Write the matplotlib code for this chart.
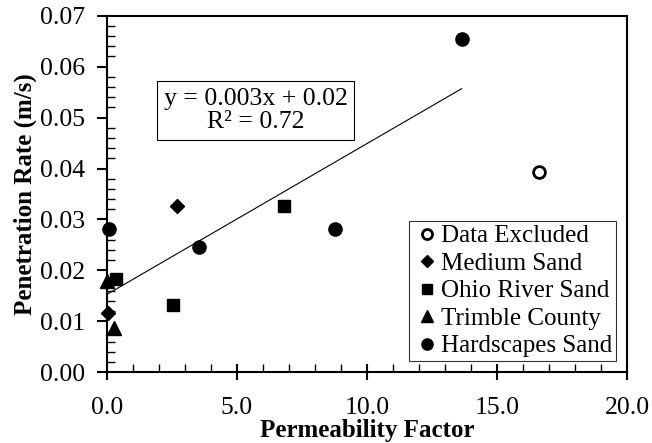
import numpy as np
import matplotlib
matplotlib.use('Agg')
import matplotlib.pyplot as plt
from matplotlib.ticker import MultipleLocator, FormatStrFormatter

plt.rcParams['font.family'] = ['Liberation Serif', 'DejaVu Serif']

# data
excl_x = [16.61]
excl_y = [0.0393]
medium_x = [2.69, 0.03]
medium_y = [0.0327, 0.0116]
ohio_x = [0.35, 2.55, 6.81]
ohio_y = [0.0183, 0.0132, 0.0327]
trimble_x = [0.01, 0.28]
trimble_y = [0.0180, 0.0086]
hard_x = [0.09, 3.55, 8.75, 13.64]
hard_y = [0.0281, 0.0246, 0.0281, 0.0655]

# linear trend line shown on the chart
trend_slope = 0.00296
trend_icpt = 0.0153
trend_x = [0.0, 13.64]

fig = plt.figure(figsize=(6.52, 4.43), dpi=100)
ax = fig.add_axes([107/652, 1-372.3/443, (627-107)/652, (372.3-15.7)/443])

ax.plot(excl_x, excl_y, 'o', mfc='white', mec='black', mew=2, ms=8.5, label='Data Excluded', clip_on=False)
ax.plot(medium_x, medium_y, 'D', color='black', ms=7, label='Medium Sand', clip_on=False)
ax.plot(ohio_x, ohio_y, 's', color='black', ms=9, label='Ohio River Sand', clip_on=False)
ax.plot(trimble_x, trimble_y, '^', color='black', ms=9.5, label='Trimble County', clip_on=False)
ax.plot(hard_x, hard_y, 'o', color='black', ms=9.5, label='Hardscapes Sand', clip_on=False)

tx = np.array(trend_x)
ax.plot(tx, trend_icpt + trend_slope*tx, '-', color='black', lw=0.8)

ax.text(5.72, 0.0514, 'y = 0.003x + 0.02\nR² = 0.72', ha='center', va='center',
        fontsize=18.5, linespacing=1.1,
        bbox=dict(boxstyle='square,pad=0.25', fc='white', ec='black', lw=0.8))

ax.set_xlim(0, 20)
ax.set_ylim(0, 0.07)
ax.xaxis.set_major_locator(MultipleLocator(5))
ax.xaxis.set_minor_locator(MultipleLocator(1))
ax.yaxis.set_major_locator(MultipleLocator(0.01))
ax.yaxis.set_minor_locator(MultipleLocator(0.002))
ax.xaxis.set_major_formatter(FormatStrFormatter('%.1f'))
ax.yaxis.set_major_formatter(FormatStrFormatter('%.2f'))
ax.tick_params(axis='x', which='major', direction='inout', length=12, width=1.5, labelsize=18.5, pad=12)
ax.tick_params(axis='x', which='minor', direction='in', length=6, width=1)
ax.tick_params(axis='y', which='major', direction='out', length=7, width=1.5, labelsize=18.5, pad=9)
ax.tick_params(axis='y', which='minor', direction='in', length=6, width=1)
for s in ax.spines.values():
    s.set_linewidth(1.5)

ax.set_xlabel('Permeability Factor', fontsize=18, fontweight='bold', labelpad=0)
ax.set_ylabel('Penetration Rate (m/s)', fontsize=18, fontweight='bold', labelpad=2)

leg = ax.legend(loc='lower right', fontsize=18, frameon=True, fancybox=False,
                edgecolor='black', handletextpad=0.0, handlelength=1.1,
                labelspacing=0.2, borderpad=0.15, borderaxespad=0.45, markerscale=0.85)
leg.get_frame().set_linewidth(0.8)

plt.savefig('out.png', dpi=100)
